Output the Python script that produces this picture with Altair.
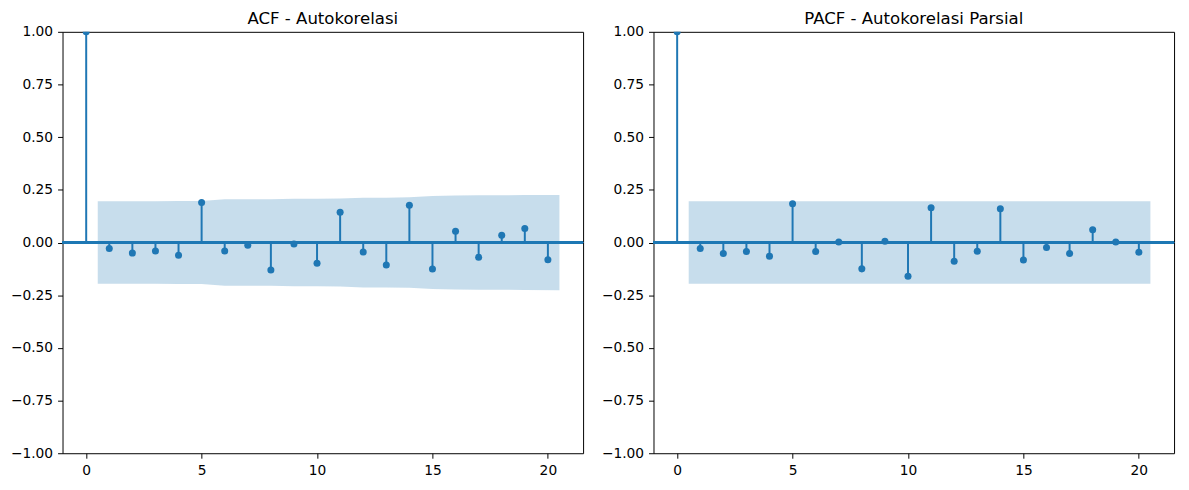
import altair as alt
import pandas as pd

lags = list(range(0, 21))
acf_vals = [1.0, -0.028, -0.050, -0.040, -0.060, 0.190, -0.040, -0.013, -0.130, -0.007,
            -0.098, 0.144, -0.045, -0.107, 0.177, -0.126, 0.053, -0.070, 0.034, 0.067, -0.082]
pacf_vals = [1.0, -0.028, -0.052, -0.042, -0.065, 0.184, -0.042, 0.002, -0.125, 0.006,
             -0.160, 0.165, -0.089, -0.041, 0.160, -0.083, -0.024, -0.052, 0.061, 0.002, -0.046]
# confidence band half-width at lags 1..20
acf_band = [0.196, 0.196, 0.196, 0.197, 0.197, 0.205, 0.205, 0.205, 0.208, 0.208,
            0.209, 0.213, 0.213, 0.215, 0.221, 0.223, 0.224, 0.2245, 0.225, 0.226]
pacf_band = [0.196] * 20

BLUE = "#1f77b4"
W, H = 525, 425
FONT = "DejaVu Sans"


def panel(vals, band, title):
    df = pd.DataFrame({"lag": lags, "val": vals})
    bx = [float(l) for l in lags[1:]]
    bx[0] -= 0.5
    bx[-1] += 0.5
    bdf = pd.DataFrame({"x": bx, "hi": band, "lo": [-b for b in band]})

    xs = alt.Scale(domain=[-1.025, 21.525], nice=False, zero=False)
    ys = alt.Scale(domain=[-1, 1], nice=False)
    xax = alt.Axis(values=[0, 5, 10, 15, 20], title=None, grid=False, format="d")
    yax = alt.Axis(values=[-1, -0.75, -0.5, -0.25, 0, 0.25, 0.5, 0.75, 1], format=".2f",
                   title=None, grid=False)

    area = alt.Chart(bdf).mark_area(color=BLUE, opacity=0.25, clip=True).encode(
        x=alt.X("x:Q", scale=xs, axis=xax),
        y=alt.Y("hi:Q", scale=ys, axis=yax),
        y2="lo:Q",
    )
    zero = alt.Chart(df).mark_rule(color=BLUE, strokeWidth=1.6).encode(
        y=alt.datum(0), x=alt.value(0), x2=alt.value(W)
    )
    stems = alt.Chart(df).mark_rule(color=BLUE, strokeWidth=2, clip=True).encode(
        x=alt.X("lag:Q", scale=xs), y=alt.Y("val:Q", scale=ys), y2=alt.datum(0)
    )
    dots = alt.Chart(df).mark_circle(color=BLUE, opacity=1, size=50, clip=True).encode(
        x=alt.X("lag:Q", scale=xs), y=alt.Y("val:Q", scale=ys)
    )
    return alt.layer(area, zero, stems, dots).properties(
        width=W, height=H,
        title=alt.TitleParams(title, fontSize=16.7, font=FONT, fontWeight="normal",
                              color="black", offset=-3, anchor="middle"),
    )


chart = alt.hconcat(
    panel(acf_vals, acf_band, "ACF - Autokorelasi"),
    panel(pacf_vals, pacf_band, "PACF - Autokorelasi Parsial"),
    spacing=15,
).properties(
    padding={"left": 1, "top": 0, "right": 5, "bottom": 5}
).configure_view(
    stroke="black", strokeWidth=1
).configure_axis(
    domain=False, ticks=True, tickSize=5, tickColor="black", tickWidth=1,
    labelPadding=5, labelFont=FONT, labelFontSize=13.9, labelColor="black",
)

chart.save("out.html", embed_options={"renderer": "svg", "actions": False})
